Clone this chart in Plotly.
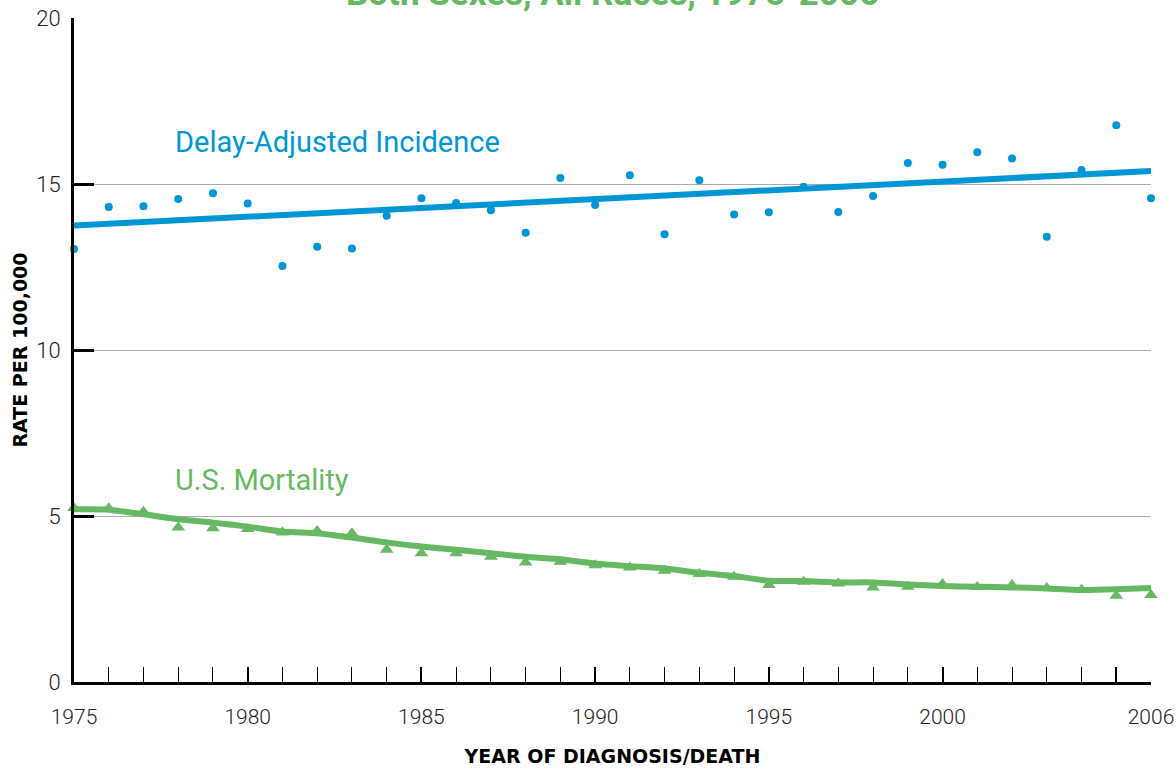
import plotly.graph_objects as go

years = list(range(1975, 2007))
incidence = [13.04, 14.31, 14.33, 14.55, 14.72, 14.41, 12.53, 13.11, 13.06, 14.04,
             14.57, 14.43, 14.21, 13.53, 15.18, 14.37, 15.26, 13.49, 15.11, 14.08,
             14.15, 14.92, 14.16, 14.64, 15.63, 15.58, 15.96, 15.77, 13.41, 15.42,
             16.77, 14.57]
incidence_trend_years = [1975, 2006]
incidence_trend = [13.75, 15.39]
mortality = [5.24, 5.23, 5.13, 4.65, 4.63, 4.61, 4.50, 4.55, 4.48, 3.98,
             3.88, 3.88, 3.77, 3.60, 3.62, 3.52, 3.45, 3.35, 3.25, 3.17,
             2.92, 3.02, 2.97, 2.85, 2.87, 2.95, 2.86, 2.92, 2.83, 2.78,
             2.60, 2.62]
mortality_fit = [5.20, 5.19, 5.05, 4.90, 4.80, 4.68, 4.53, 4.48, 4.35, 4.20,
                 4.08, 3.98, 3.88, 3.77, 3.70, 3.57, 3.49, 3.42, 3.29, 3.19,
                 3.05, 3.04, 3.00, 3.00, 2.94, 2.89, 2.87, 2.85, 2.82, 2.77,
                 2.79, 2.83]
x_tickvals = [1975, 1980, 1985, 1990, 1995, 2000, 2005, 2006]
x_ticktext = ["1975", "1980", "1985", "1990", "1995", "2000", "", "2006"]
y_tickvals = [0, 5, 10, 15, 20]
title_text = "Both Sexes, All Races, 1975-2006"
label_incidence = "Delay-Adjusted Incidence"
label_mortality = "U.S. Mortality"

BLUE = "#0096d6"
GREEN = "#66b862"
TICKFONT = "Roboto, sans-serif"
BOLDFONT = "DejaVu Sans, sans-serif"

fig = go.Figure()
fig.add_trace(go.Scatter(x=incidence_trend_years, y=incidence_trend, mode="lines",
                         line=dict(color=BLUE, width=6), cliponaxis=False, showlegend=False))
fig.add_trace(go.Scatter(x=years, y=incidence, mode="markers",
                         marker=dict(color=BLUE, size=8), cliponaxis=False, showlegend=False))
fig.add_trace(go.Scatter(x=years, y=mortality_fit, mode="lines",
                         line=dict(color=GREEN, width=6, shape="spline", smoothing=0.6),
                         cliponaxis=False, showlegend=False))
fig.add_trace(go.Scatter(x=years, y=mortality, mode="markers",
                         marker=dict(color=GREEN, size=12, symbol="triangle-up"),
                         cliponaxis=False, showlegend=False))

fig.add_annotation(x=1977.85, y=16.27, xref="x", yref="y", text=label_incidence,
                   showarrow=False, xanchor="left", yanchor="middle",
                   font=dict(family="Roboto, sans-serif", size=29, color=BLUE))
fig.add_annotation(x=1977.85, y=6.08, xref="x", yref="y", text=label_mortality,
                   showarrow=False, xanchor="left", yanchor="middle",
                   font=dict(family="Roboto, sans-serif", size=29, color=GREEN))
fig.add_annotation(x=0.5, y=1.0, xref="paper", yref="paper", yshift=2,
                   text="<b>" + title_text + "</b>",
                   showarrow=False, xanchor="center", yanchor="bottom",
                   font=dict(family="Roboto, sans-serif", size=35, color=GREEN))

fig.update_layout(
    width=1176, height=771,
    margin=dict(l=74, r=25, t=18, b=89, autoexpand=False),
    plot_bgcolor="white", paper_bgcolor="white",
    showlegend=False,
)
fig.update_xaxes(
    range=[1975, 2006], tickvals=x_tickvals, ticktext=x_ticktext,
    automargin=False,
    ticks="inside", ticklen=15, tickwidth=2, tickcolor="black",
    minor=dict(ticks="inside", dtick=1, tick0=1975, ticklen=15, tickwidth=1, tickcolor="black"),
    showline=True, linecolor="black", linewidth=3, showgrid=False, zeroline=False,
    ticklabelstandoff=14,
    tickfont=dict(family=TICKFONT, size=21, color="#222", weight=300),
    title=dict(text="<b>YEAR OF DIAGNOSIS/DEATH</b>", standoff=22,
               font=dict(family=BOLDFONT, size=19, color="black")),
)
fig.update_yaxes(
    range=[0, 20], tickvals=y_tickvals,
    automargin=False,
    ticks="inside", ticklen=20, tickwidth=3, tickcolor="black",
    showline=True, linecolor="black", linewidth=3,
    showgrid=True, gridcolor="#aaaaaa", gridwidth=1, zeroline=False,
    ticklabelstandoff=6,
    tickfont=dict(family=TICKFONT, size=22, color="#222", weight=300),
    title=dict(text="<b>RATE PER 100,000</b>", standoff=4,
               font=dict(family=BOLDFONT, size=19, color="black")),
)

fig.write_html("out.html", config={"displayModeBar": False},
               post_script="document.body.style.margin='0';")
